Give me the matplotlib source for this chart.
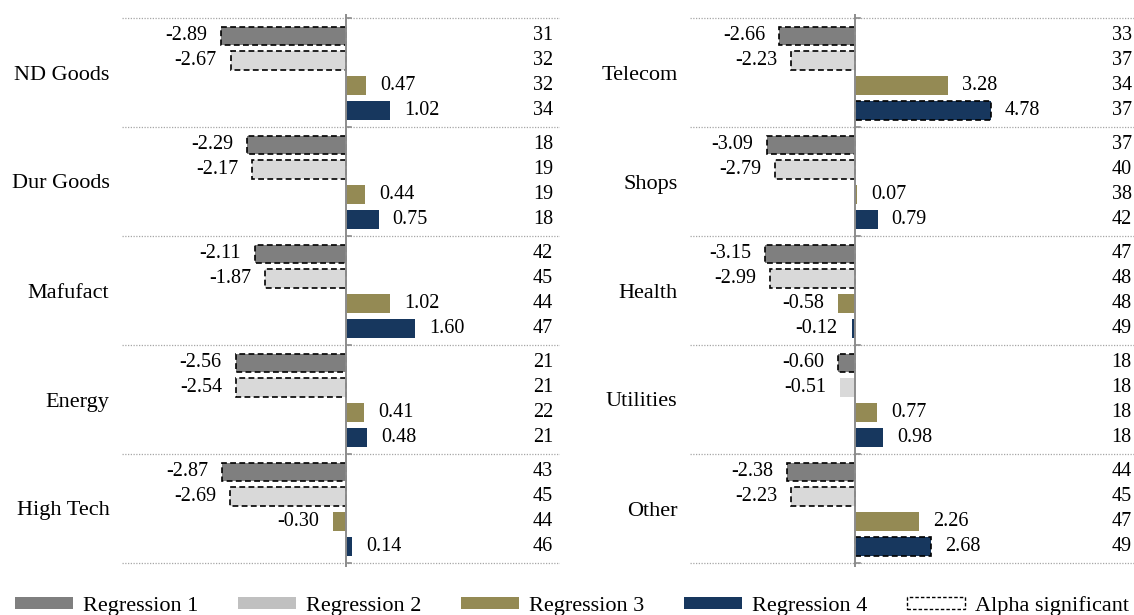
import matplotlib
matplotlib.use("Agg")
import matplotlib.pyplot as plt
from matplotlib.patches import Patch

# ==========================================================
# DADOS
# ==========================================================

SERIES = ["Regression 1", "Regression 2", "Regression 3", "Regression 4"]
CORES = ["#7f7f7f", "#d9d9d9", "#948a54", "#17375e"]
CORES_LEGENDA = ["#7f7f7f", "#c0c0c0", "#948a54", "#17375e"]

setores_esq = ["ND Goods", "Dur Goods", "Mafufact", "Energy", "High Tech"]
reg1_esq = [-2.89, -2.29, -2.11, -2.56, -2.87]
reg2_esq = [-2.67, -2.17, -1.87, -2.54, -2.69]
reg3_esq = [0.47, 0.44, 1.02, 0.41, -0.30]
reg4_esq = [1.02, 0.75, 1.60, 0.48, 0.14]
n_esq = [
    [31, 32, 32, 34],
    [18, 19, 19, 18],
    [42, 45, 44, 47],
    [21, 21, 22, 21],
    [43, 45, 44, 46],
]
sig_esq = [
    [True, True, False, False],
    [True, True, False, False],
    [True, True, False, False],
    [True, True, False, False],
    [True, True, False, False],
]

setores_dir = ["Telecom", "Shops", "Health", "Utilities", "Other"]
reg1_dir = [-2.66, -3.09, -3.15, -0.60, -2.38]
reg2_dir = [-2.23, -2.79, -2.99, -0.51, -2.23]
reg3_dir = [3.28, 0.07, -0.58, 0.77, 2.26]
reg4_dir = [4.78, 0.79, -0.12, 0.98, 2.68]
n_dir = [
    [33, 37, 34, 37],
    [37, 40, 38, 42],
    [47, 48, 48, 49],
    [18, 18, 18, 18],
    [44, 45, 47, 49],
]
sig_dir = [
    [True, True, False, True],
    [True, True, False, False],
    [True, True, False, False],
    [True, False, False, False],
    [True, True, False, True],
]

# ==========================================================
# CONFIGURAÇÕES
# ==========================================================

plt.rcParams["font.family"] = ["Liberation Serif", "DejaVu Serif"]

W, H = 1134, 615
FONTE = 14.5
FONTE_ROTULO = 16
TRACO = (0, (3.5, 2))

# posição de cada barra dentro do grupo (grupo = 1 unidade)
OFFSETS = [0.165, 0.394, 0.623, 0.852]
ALTURA = 0.174


def eixo_px(fig, x0, x1, y0, y1):
    return fig.add_axes([x0 / W, 1 - y1 / H, (x1 - x0) / W, (y1 - y0) / H])


# ==========================================================
# PAINEL
# ==========================================================

def painel(ax, setores, series, sig, contagens, xlim, x_num):

    n = len(setores)
    pad = 4 / 109

    for g in range(n):
        for j, valores in enumerate(series):
            v = valores[g]
            y = g + OFFSETS[j]
            if sig[g][j]:
                ax.barh(y, v, height=ALTURA, color=CORES[j],
                        edgecolor="black", linewidth=1.2, linestyle=TRACO,
                        zorder=3)
            else:
                ax.barh(y, v, height=ALTURA, color=CORES[j],
                        edgecolor="none", zorder=3)

            ax.annotate(f"{v:.2f}", (v, y),
                        xytext=(10 if v >= 0 else -10, 0),
                        textcoords="offset points",
                        ha="left" if v >= 0 else "right",
                        va="center", fontsize=FONTE)

            ax.text(x_num, y, str(contagens[g][j]),
                    transform=ax.get_yaxis_transform(),
                    ha="right", va="center", fontsize=FONTE)

    # separadores entre setores
    for s in range(n + 1):
        ax.axhline(s, color="#a6a6a6", linestyle=(0, (1, 1.2)),
                   linewidth=0.9, zorder=1)
        ax.plot([0, 0.12 * (xlim[1] - xlim[0]) / 10.14], [s, s],
                color="#8c8c8c", linewidth=1.2, zorder=2)

    ax.axvline(0, color="#8c8c8c", linewidth=1.4, zorder=4)

    ax.set_xlim(*xlim)
    ax.set_ylim(n + pad, -pad)

    ax.set_yticks([g + 0.5 for g in range(n)])
    ax.set_yticklabels(setores, fontsize=FONTE_ROTULO)
    ax.tick_params(axis="y", length=0, pad=9)
    ax.set_xticks([])

    for lado in ax.spines.values():
        lado.set_visible(False)


# ==========================================================
# PROGRAMA PRINCIPAL
# ==========================================================

def main():

    fig = plt.figure(figsize=(W / 100, H / 100), dpi=100)

    ax_esq = eixo_px(fig, 122, 560, 14, 567)
    ax_dir = eixo_px(fig, 690, 1134, 14, 567)

    painel(ax_esq, setores_esq, [reg1_esq, reg2_esq, reg3_esq, reg4_esq],
           sig_esq, n_esq, (-5.19, 4.95), 0.984)

    painel(ax_dir, setores_dir, [reg1_dir, reg2_dir, reg3_dir, reg4_dir],
           sig_dir, n_dir, (-5.79, 9.79), 0.995)

    handles = [Patch(facecolor=c, edgecolor="none") for c in CORES_LEGENDA]
    handles.append(Patch(facecolor="white", edgecolor="black",
                         linewidth=1.0, linestyle=(0, (2.5, 1.5))))
    rotulos = SERIES + ["Alpha significant"]

    fig.legend(handles, rotulos, loc="center",
               bbox_to_anchor=(0.5 + 5 / W, 9 / H), ncol=5, frameon=False,
               fontsize=FONTE_ROTULO, handlelength=2.6, handleheight=0.45,
               handletextpad=0.45, columnspacing=1.8, borderpad=0,
               borderaxespad=0)

    fig.savefig("out.png", dpi=100)


if __name__ == "__main__":

    main()
